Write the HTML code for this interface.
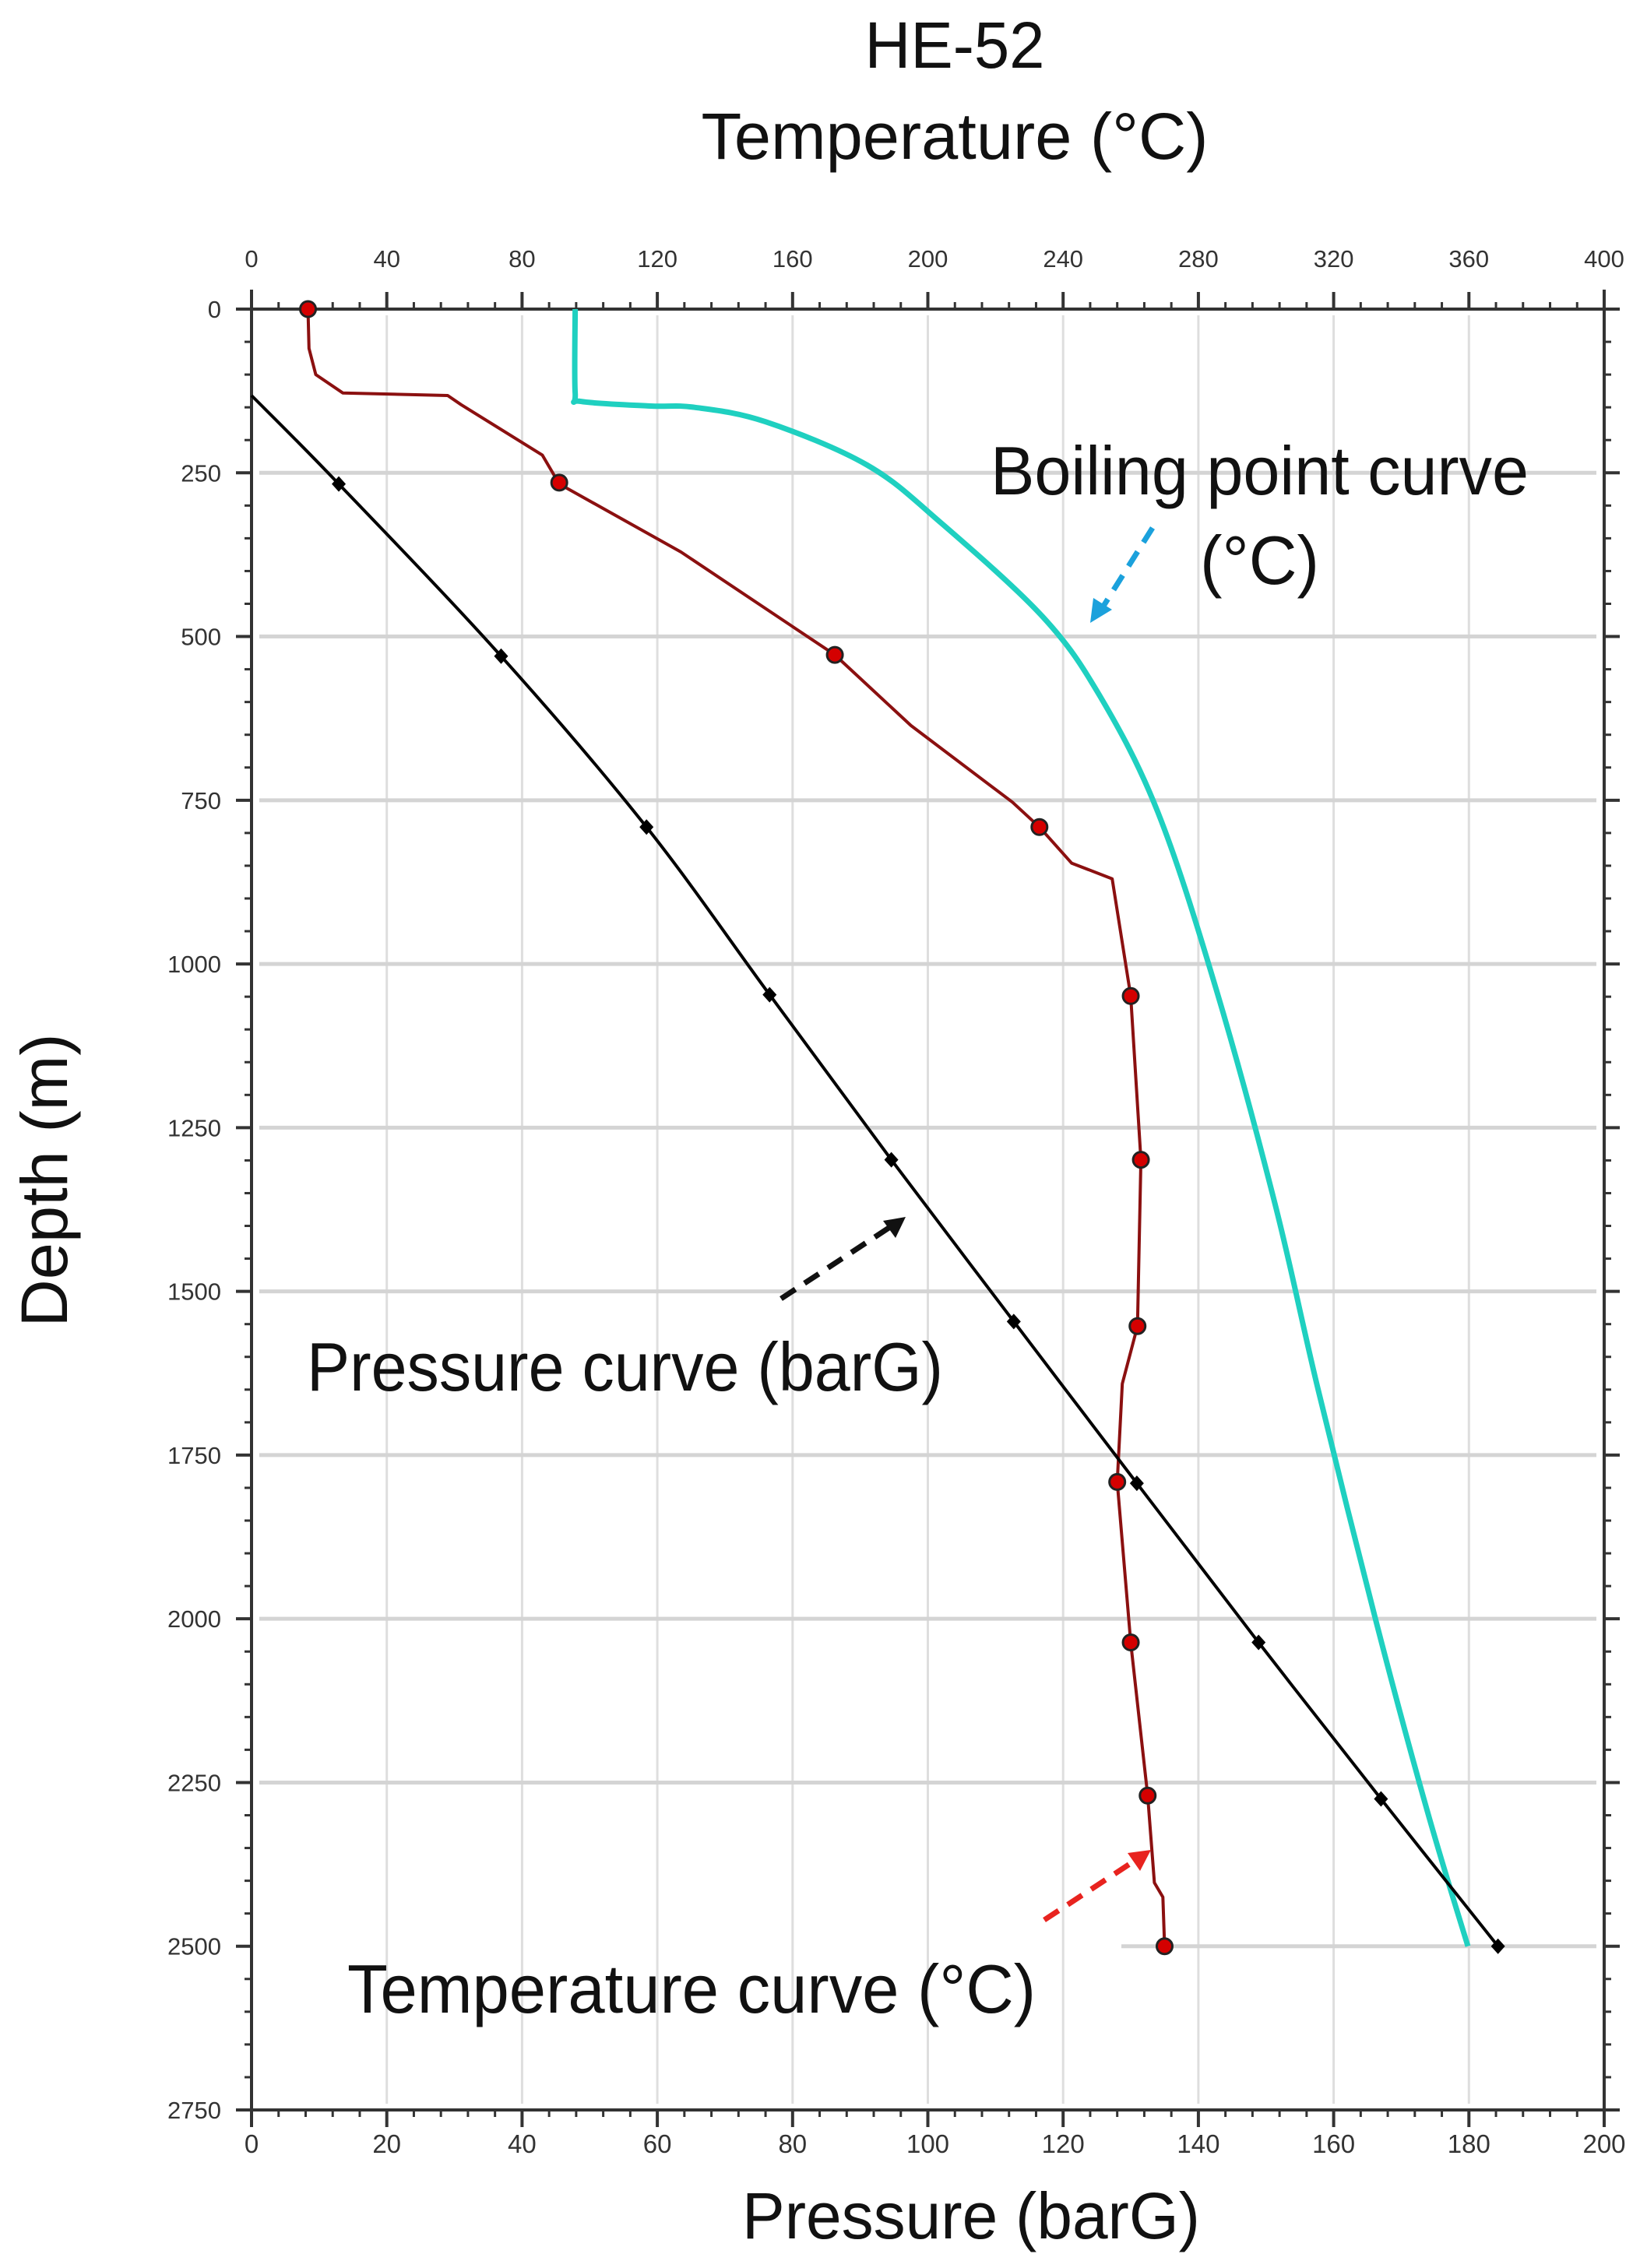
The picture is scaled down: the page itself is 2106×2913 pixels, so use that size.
<!DOCTYPE html>
<html><head><meta charset="utf-8"><style>
html,body{margin:0;padding:0;background:#fff;}
svg{display:block;}
text{font-family:"Liberation Sans",sans-serif;}
</style></head><body>
<svg id="chart" width="2106" height="2913" viewBox="0 0 2106 2913" xmlns="http://www.w3.org/2000/svg">
<rect width="2106" height="2913" fill="#fff"/>
<text x="1226" y="87" font-size="84" text-anchor="middle" textLength="231" lengthAdjust="spacingAndGlyphs" fill="#111">HE-52</text>
<text x="1226" y="204" font-size="84" text-anchor="middle" textLength="651" lengthAdjust="spacingAndGlyphs" fill="#111">Temperature (°C)</text>
<text x="1247" y="2875" font-size="84" text-anchor="middle" textLength="588" lengthAdjust="spacingAndGlyphs" fill="#111">Pressure (barG)</text>
<text transform="translate(86,1516) rotate(-90)" font-size="84" text-anchor="middle" textLength="377" lengthAdjust="spacingAndGlyphs" fill="#111">Depth (m)</text>
<g id="grid"></g>
<g id="axes"></g>
<g id="series"></g>
<g>
<text x="1272" y="635" font-size="88" textLength="691" lengthAdjust="spacingAndGlyphs" fill="#111">Boiling point curve</text>
<text x="1541" y="750" font-size="88" textLength="153" lengthAdjust="spacingAndGlyphs" fill="#111">(°C)</text>
<text x="394" y="1786" font-size="88" textLength="817" lengthAdjust="spacingAndGlyphs" fill="#111">Pressure curve (barG)</text>
<text x="446" y="2585" font-size="88" textLength="884" lengthAdjust="spacingAndGlyphs" fill="#111">Temperature curve (°C)</text>
<g>
<line x1="1480" y1="678" x2="1416" y2="780" stroke="#1ba1dc" stroke-width="7" stroke-dasharray="22,14"/>
<polygon points="1400,800 1404,768 1428,783" fill="#1ba1dc"/>
</g>
<g>
<line x1="1003" y1="1668" x2="1146" y2="1574" stroke="#111" stroke-width="7" stroke-dasharray="22,14"/>
<polygon points="1163,1563 1134,1568 1150,1590" fill="#111"/>
</g>
<g>
<line x1="1341" y1="2466" x2="1460" y2="2388" stroke="#e8231f" stroke-width="7" stroke-dasharray="22,14"/>
<polygon points="1478,2376 1448,2380 1464,2403" fill="#e8231f"/>
</g>
</g>
</svg>
<script>
// Data
const tempDepth = [0,60,100,128,132,146,223,267,371,528,636,753,791,846,870,1049,1299,1553,1641,1791,2036,2270,2403,2425,2500];
const tempValues = [16.7,17,19,27,58,62,86,91,127,172.5,195,225,233,242.5,254.5,260,263,262,257.5,256,260,265,267,269.5,270];
const tempMarkerDepth = [0,265,528,791,1049,1299,1553,1791,2036,2270,2500];
const tempMarkerValues = [16.7,91,172.5,233,260,263,262,256,260,265,270];
const boilDepth = [0,128,141,148,150,172,238,327,470,592,768,1034,1365,1652,2005,2292,2500];
const boilValues = [95.7,95.7,97.4,118,131,152,182,204,234,251,268,285,302.6,315.5,332.6,347.6,359.7];
const presDepth = [132,267,530,791,1047,1299,1546,1793,2036,2275,2500];
const presValues = [0,12.9,36.9,58.4,76.6,94.6,112.7,130.9,148.9,167,184.3];
const tempTicks = [0,40,80,120,160,200,240,280,320,360,400];
const presTicks = [0,20,40,60,80,100,120,140,160,180,200];
const depthTicks = [0,250,500,750,1000,1250,1500,1750,2000,2250,2500,2750];

const X0=323, X1=2060, Y0=397, Y1=2710;
const xT = t => X0 + (X1-X0)*t/400;
const xP = p => X0 + (X1-X0)*p/200;
const yD = d => Y0 + (Y1-Y0)*d/2750;
const NS='http://www.w3.org/2000/svg';
function mk(tag, parent, attrs){const e=document.createElementNS(NS,tag);for(const k in attrs)e.setAttribute(k,attrs[k]);parent.appendChild(e);return e;}
const grid=document.getElementById('grid'), axes=document.getElementById('axes'), series=document.getElementById('series');

tempTicks.forEach((t,i)=>{ if(i>0&&i<tempTicks.length-1){
  const g=mk('line',grid,{x1:xT(t),x2:xT(t),y1:Y0+8,y2:Y1-8,stroke:'#dedede','stroke-width':3});
  
  
}});
depthTicks.forEach((d,i)=>{ if(i>0&&i<depthTicks.length-1){
  const xs = d===2500 ? 1440 : X0+10;
  const g=mk('line',grid,{x1:xs,x2:X1-10,y1:yD(d),y2:yD(d),stroke:'#d4d4d4','stroke-width':5});
  
  
}});

[[X0-20,Y0,X1+20,Y0],[X0-20,Y1,X1+20,Y1],[X0,Y0-25,X0,Y1+20],[X1,Y0-25,X1,Y1+20]].forEach(a=>{
  const l=mk('line',axes,{x1:a[0],y1:a[1],x2:a[2],y2:a[3],stroke:'#333','stroke-width':4});
  
  
});
for(let t=0;t<=400;t+=8){const maj=t%40===0;mk('line',axes,{x1:xT(t),x2:xT(t),y1:Y0,y2:Y0-(maj?22:9),stroke:'#333','stroke-width':maj?4:3});}
for(let p=0;p<=200;p+=4){const maj=p%20===0;mk('line',axes,{x1:xP(p),x2:xP(p),y1:Y1,y2:Y1+(maj?22:9),stroke:'#333','stroke-width':maj?4:3});}
for(let d=0;d<=2750;d+=50){const maj=d%250===0;mk('line',axes,{x1:X0,x2:X0-(maj?20:9),y1:yD(d),y2:yD(d),stroke:'#333','stroke-width':maj?4:3});mk('line',axes,{x1:X1,x2:X1+(maj?20:9),y1:yD(d),y2:yD(d),stroke:'#333','stroke-width':maj?4:3});}
tempTicks.forEach(t=>{const e=mk('text',axes,{x:xT(t),y:343,'font-size':31,'text-anchor':'middle',fill:'#333'});e.textContent=t;
  
  });
presTicks.forEach(p=>{const e=mk('text',axes,{x:xP(p),y:2765,'font-size':33,'text-anchor':'middle',fill:'#333'});e.textContent=p;
  
  });
depthTicks.forEach(d=>{const e=mk('text',axes,{x:284,y:yD(d)+11,'font-size':31,'text-anchor':'end',fill:'#333'});e.textContent=d;
  
  });

function smoothPath(P){
  let d='M'+P[0][0].toFixed(1)+','+P[0][1].toFixed(1);
  for(let i=0;i<P.length-1;i++){
    const p0=P[Math.max(0,i-1)],p1=P[i],p2=P[i+1],p3=P[Math.min(P.length-1,i+2)];
    const t=1/6;
    const c1=[p1[0]+(p2[0]-p0[0])*t,p1[1]+(p2[1]-p0[1])*t];
    const c2=[p2[0]-(p3[0]-p1[0])*t,p2[1]-(p3[1]-p1[1])*t];
    d+=' C'+c1.map(v=>v.toFixed(1)).join(',')+' '+c2.map(v=>v.toFixed(1)).join(',')+' '+p2[0].toFixed(1)+','+p2[1].toFixed(1);
  }
  return d;
}
function line(xs,ys,stroke,w,name,smooth){
  const P=xs.map((x,i)=>[x,ys[i]]);
  const d=smooth?smoothPath(P):'M'+P.map(p=>p[0].toFixed(1)+','+p[1].toFixed(1)).join(' L');
  const p=mk('path',series,{d:d,fill:'none',stroke:stroke,'stroke-width':w,'stroke-linejoin':'round'});
  
  
}
line(boilValues.map(xT),boilDepth.map(yD),'#1fd0c0',7,'boiling-point-line',true);
line(tempValues.map(xT),tempDepth.map(yD),'#8b1010',4,'temperature-line',false);
line(presValues.map(xP),presDepth.map(yD),'#000',4,'pressure-line',true);
tempMarkerValues.forEach((t,i)=>{
  const c=mk('circle',series,{cx:xT(t),cy:yD(tempMarkerDepth[i]),r:10,fill:'#d40000',stroke:'#222','stroke-width':3});
  
  
});
presValues.forEach((p,i)=>{ if(i===0) return;
  const x=xP(p), y=yD(presDepth[i]);
  const c=mk('polygon',series,{points:`${x},${y-10} ${x+9},${y} ${x},${y+10} ${x-9},${y}`,fill:'#000'});
  
  
});
</script>
</body></html>
